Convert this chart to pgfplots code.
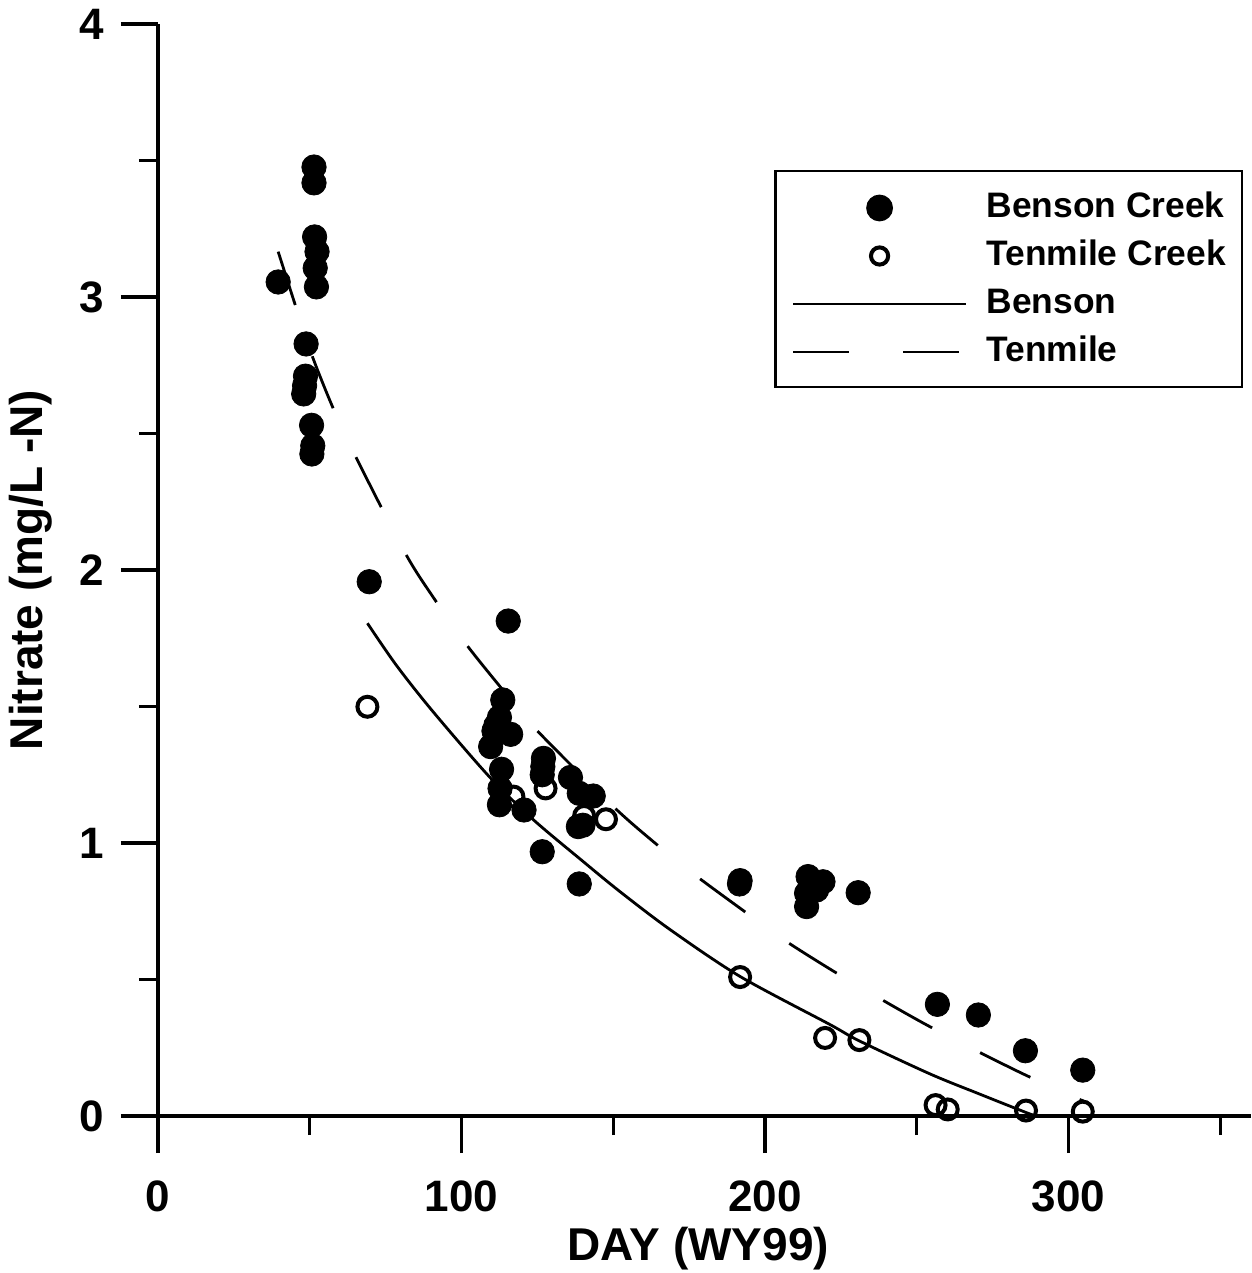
\documentclass[border=0pt]{standalone}
\usepackage{pgfplots}
\pgfplotsset{compat=1.18}
\usepackage{fontspec}
\setmainfont{Liberation Sans}
\pgfplotsset{
  legfilled/.style={legend image code/.code={\path (0pt,-0.4pt) (86.5pt,-0.4pt); \draw[##1] plot coordinates {(43.25pt,-0.4pt)};}},
  legopen/.style={legend image code/.code={\path (0pt,-0.4pt) (86.5pt,-0.4pt); \draw[##1, mark size=4.3pt] plot coordinates {(43.25pt,-0.4pt)};}},
  legsolid/.style={legend image code/.code={\draw[##1] (0pt,-0.4pt) -- (86.5pt,-0.4pt);}},
  legdash/.style={legend image code/.code={\draw[##1] (0pt,-0.4pt) -- (83pt,-0.4pt);}},
}
\begin{document}
\begin{tikzpicture}
\begin{axis}[
  scale only axis,
  width=546.3pt, height=546pt,
  xmin=0, xmax=360, ymin=0, ymax=4,
  axis lines*=left,
  clip=false,
  axis line style={line width=1.6pt, black},
  xtick={0,100,200,300}, minor xtick={50,150,250,350},
  xticklabels={0,100,200,300},
  ytick={0,1,2,3,4}, minor ytick={0.5,1.5,2.5,3.5},
  yticklabels={0,1,2,3,4},
  tick align=outside,
  major tick length=18.5pt, minor tick length=9.5pt,
  every tick/.style={line width=1.6pt, black},
  ticklabel style={font=\fontsize{22}{22}\selectfont\bfseries, inner sep=0pt},
  yticklabel style={anchor=east, xshift=-8.5pt},
  xticklabel style={anchor=north, yshift=-13.5pt},
  xlabel={DAY (WY99)},
  ylabel={Nitrate (mg/L -N)},
  xlabel style={at={([xshift=-3pt,yshift=-55.5pt]axis description cs:0.5,0)}, anchor=north, inner sep=0pt, font=\fontsize{23}{23}\selectfont\bfseries},
  ylabel style={at={([xshift=-63.5pt]axis description cs:0,0.5)}, anchor=center, inner sep=0pt, font=\fontsize{23}{23}\selectfont\bfseries},
  legend style={at={(rel axis cs:0.9931,0.8663)}, anchor=north east,
    draw=black, line width=1.2pt, inner xsep=8pt, inner ysep=10.4pt,
    font=\fontsize{17.7}{17.7}\selectfont\bfseries,
    nodes={inner sep=0pt, text height=12.7pt, text depth=2.5pt},
    row sep=8.8pt,
    /tikz/every odd column/.append style={column sep=9.5pt}},
  legend cell align=left,
]
\addplot[only marks, mark=*, mark size=6.1pt, black, fill=black, legfilled]
coordinates {
(39.6,3.055) (48.8,2.828) (48.6,2.71) (48.3,2.675) (48.0,2.645)
(50.6,2.53) (51.0,2.455) (50.7,2.425) (51.4,3.476) (51.4,3.418)
(51.6,3.22) (52.4,3.166) (51.8,3.106) (52.2,3.037) (69.6,1.957)
(115.4,1.813) (113.6,1.524) (112.5,1.46) (111.3,1.43) (110.7,1.41)
(116.2,1.398) (109.6,1.353) (113.2,1.27) (112.7,1.20) (112.5,1.14)
(120.6,1.121) (126.6,0.968) (127.0,1.31) (126.8,1.28) (126.6,1.25)
(135.9,1.24) (138.8,1.182) (143.4,1.172) (138.5,1.06) (140.0,1.065)
(138.8,0.85) (191.8,0.862) (191.6,0.85) (214.2,0.877) (219.1,0.858)
(217.0,0.828) (213.7,0.816) (213.7,0.767) (230.7,0.818) (256.8,0.409)
(270.3,0.37) (285.8,0.239) (304.7,0.168)
};
\addlegendentry{Benson Creek}
\addplot[only marks, mark=o, mark size=5pt, black, mark options={line width=2pt}, legopen]
coordinates {
(69.0,1.499) (117.1,1.17) (127.7,1.20) (140.4,1.099) (147.6,1.087)
(191.8,0.509) (219.8,0.286) (231.1,0.278) (256.2,0.040) (260.2,0.024)
(286.0,0.020) (304.7,0.016)
};
\addlegendentry{Tenmile Creek}
\addplot[black, line width=1.4pt, smooth, tension=0.5, legsolid]
coordinates {
(69,1.805) (78.6,1.650) (90.7,1.480) (109.4,1.240) (123.7,1.085)
(140.1,0.932) (152.2,0.822) (168.7,0.683) (191.8,0.511) (221.4,0.335)
(231.1,0.275) (254.4,0.154) (270.8,0.080) (286.2,0.012) (289.5,0.0)
};
\addlegendentry{Benson}
\addplot[black, line width=1.4pt, smooth, tension=0.5, dash pattern=on 28pt off 27pt, legdash]
coordinates {
(39.6,3.166) (45.1,2.975) (50.6,2.79) (57.5,2.598) (64.7,2.425)
(81.4,2.063) (91.3,1.89) (101.4,1.73) (112.7,1.573) (124.2,1.42)
(149.4,1.14) (163.2,1.005) (176.9,0.883) (191.8,0.761) (206,0.647)
(221.6,0.537) (236.8,0.437) (252.7,0.337) (268.6,0.245) (284.9,0.155)
(301,0.073) (305,0.055)
};
\addlegendentry{Tenmile}
\end{axis}
\pgfresetboundingbox
\path ([shift={(-79pt,-78.5pt)}]current axis.south west) rectangle ([shift={(0.3pt,12pt)}]current axis.north east);
\end{tikzpicture}
\end{document}
